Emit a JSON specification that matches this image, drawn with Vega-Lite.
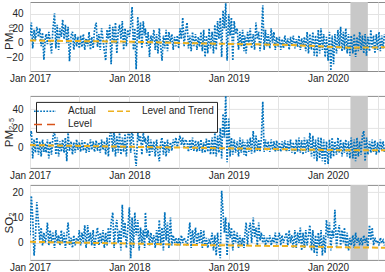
{
"$schema":"https://vega.github.io/schema/vega-lite/v6.json",
"padding":{"left":2,"top":1,"right":1,"bottom":0},
"config":{"font":"Liberation Sans","view":{"stroke":"#8c8c8c"},
"axis":{"labelFont":"Liberation Sans","labelFontSize":10,"labelColor":"#262626","titleFont":"Liberation Sans","titleFontSize":11.5,"titleFontWeight":"normal","titleColor":"#262626","gridColor":"#e3e3e3","domain":false,"ticks":false},
"legend":{"orient":"none","legendX":6,"legendY":6,"columns":2,"direction":"horizontal","symbolSize":121,"symbolStrokeWidth":1.5,"labelFont":"Liberation Sans","labelFontSize":10,"labelColor":"#262626","labelOffset":16.5,"columnPadding":8,"rowPadding":1.5,"padding":2.5,"fillColor":"white","strokeColor":"#262626"}},
"datasets":{
"g":[{"t":"2020-03-23","t2":"2020-05-26"}],
"tr":[{"t":"2017-01-01","a":3,"b":2.1,"c":0.4},{"t":"2018-01-01","a":1.4,"b":0.3,"c":-0.25},{"t":"2018-08-20","a":-0.8,"b":-0.7,"c":-0.8},{"t":"2019-08-20","a":-3.3,"b":-2.5,"c":-1.3},{"t":"2020-03-20","a":-7,"b":-3.5,"c":-1.8},{"t":"2020-07-28","a":-6.5,"b":-3.5,"c":-1.9}],
"m":[
{"t":"2017-01-01","a":10,"b":12,"c":3},{"t":"2017-01-06","a":28,"b":17,"c":18.5},{"t":"2017-01-11","a":-8,"b":-12,"c":10},{"t":"2017-01-16","a":18,"b":8,"c":-5},{"t":"2017-01-21","a":3,"b":-6,"c":2},{"t":"2017-01-26","a":22,"b":10,"c":16},
{"t":"2017-02-01","a":8,"b":-8,"c":8},{"t":"2017-02-06","a":20,"b":6,"c":1},{"t":"2017-02-11","a":-5,"b":-10,"c":6},{"t":"2017-02-16","a":14,"b":8,"c":-1},{"t":"2017-02-21","a":-24,"b":-5,"c":4},{"t":"2017-02-26","a":6,"b":4,"c":0},
{"t":"2017-03-01","a":12,"b":-6,"c":2},{"t":"2017-03-06","a":-2,"b":8,"c":8},{"t":"2017-03-11","a":15,"b":-12,"c":-1},{"t":"2017-03-16","a":3,"b":6,"c":5},{"t":"2017-03-21","a":-15,"b":-8,"c":0},{"t":"2017-03-26","a":18,"b":10,"c":4},
{"t":"2017-04-01","a":41,"b":19,"c":-2},{"t":"2017-04-06","a":-8,"b":-8,"c":5},{"t":"2017-04-11","a":25,"b":10,"c":0},{"t":"2017-04-16","a":-10,"b":-10,"c":3},{"t":"2017-04-21","a":20,"b":6,"c":-1},{"t":"2017-04-26","a":8,"b":-5,"c":5},
{"t":"2017-05-01","a":32,"b":8,"c":0},{"t":"2017-05-06","a":5,"b":-6,"c":4},{"t":"2017-05-11","a":25,"b":10,"c":-2},{"t":"2017-05-16","a":0,"b":-15,"c":3},{"t":"2017-05-21","a":22,"b":15,"c":8},{"t":"2017-05-26","a":-26,"b":-4,"c":-1},
{"t":"2017-06-01","a":10,"b":6,"c":2},{"t":"2017-06-06","a":15,"b":-8,"c":-2},{"t":"2017-06-11","a":-10,"b":5,"c":3},{"t":"2017-06-16","a":12,"b":-6,"c":-1},{"t":"2017-06-21","a":-5,"b":8,"c":2},{"t":"2017-06-26","a":8,"b":-3,"c":0},
{"t":"2017-07-01","a":-8,"b":5,"c":5},{"t":"2017-07-06","a":10,"b":-5,"c":-1},{"t":"2017-07-11","a":-6,"b":7,"c":4},{"t":"2017-07-16","a":12,"b":-4,"c":0},{"t":"2017-07-21","a":-10,"b":6,"c":7},{"t":"2017-07-26","a":6,"b":-6,"c":-2},
{"t":"2017-08-01","a":-5,"b":4,"c":7},{"t":"2017-08-06","a":15,"b":-5,"c":0},{"t":"2017-08-11","a":-10,"b":8,"c":4},{"t":"2017-08-16","a":8,"b":-3,"c":-1},{"t":"2017-08-21","a":-8,"b":6,"c":5},{"t":"2017-08-26","a":18,"b":-5,"c":-2},
{"t":"2017-09-01","a":28,"b":7,"c":3},{"t":"2017-09-06","a":-6,"b":-4,"c":6},{"t":"2017-09-11","a":12,"b":5,"c":-1},{"t":"2017-09-16","a":-10,"b":-6,"c":4},{"t":"2017-09-21","a":20,"b":8,"c":0},{"t":"2017-09-26","a":5,"b":-3,"c":5},
{"t":"2017-10-01","a":-12,"b":6,"c":-2},{"t":"2017-10-06","a":-25,"b":-8,"c":4},{"t":"2017-10-11","a":18,"b":10,"c":-1},{"t":"2017-10-16","a":5,"b":-10,"c":6},{"t":"2017-10-21","a":25,"b":12,"c":0},{"t":"2017-10-26","a":-30,"b":20,"c":8},
{"t":"2017-11-01","a":22,"b":-5,"c":12},{"t":"2017-11-06","a":0,"b":18,"c":-2},{"t":"2017-11-11","a":28,"b":-10,"c":6},{"t":"2017-11-16","a":-15,"b":12,"c":9},{"t":"2017-11-21","a":15,"b":-6,"c":0},{"t":"2017-11-26","a":25,"b":15,"c":5},
{"t":"2017-12-01","a":5,"b":-8,"c":-3},{"t":"2017-12-06","a":30,"b":10,"c":15},{"t":"2017-12-11","a":-10,"b":-5,"c":2},{"t":"2017-12-16","a":20,"b":14,"c":8},{"t":"2017-12-21","a":-5,"b":-10,"c":-2},{"t":"2017-12-26","a":18,"b":12,"c":5},
{"t":"2018-01-01","a":8,"b":18,"c":14},{"t":"2018-01-06","a":25,"b":-6,"c":-6},{"t":"2018-01-11","a":50,"b":20,"c":10},{"t":"2018-01-16","a":-10,"b":5,"c":-2},{"t":"2018-01-21","a":20,"b":-8,"c":12},{"t":"2018-01-26","a":-37,"b":-20,"c":3},
{"t":"2018-02-01","a":36,"b":15,"c":9},{"t":"2018-02-06","a":5,"b":6,"c":-3},{"t":"2018-02-11","a":28,"b":12,"c":6},{"t":"2018-02-16","a":-8,"b":-8,"c":0},{"t":"2018-02-21","a":30,"b":15,"c":5},{"t":"2018-02-26","a":10,"b":5,"c":-2},
{"t":"2018-03-01","a":20,"b":10,"c":12},{"t":"2018-03-06","a":-5,"b":-6,"c":2},{"t":"2018-03-11","a":15,"b":12,"c":5},{"t":"2018-03-16","a":-20,"b":-10,"c":-1},{"t":"2018-03-21","a":10,"b":8,"c":4},{"t":"2018-03-26","a":0,"b":-5,"c":0},
{"t":"2018-04-01","a":18,"b":6,"c":3},{"t":"2018-04-06","a":-10,"b":-10,"c":-2},{"t":"2018-04-11","a":12,"b":8,"c":5},{"t":"2018-04-16","a":-15,"b":-6,"c":0},{"t":"2018-04-21","a":20,"b":-15,"c":9},{"t":"2018-04-26","a":-5,"b":5,"c":-1},
{"t":"2018-05-01","a":-25,"b":10,"c":6},{"t":"2018-05-06","a":10,"b":-8,"c":-3},{"t":"2018-05-11","a":-8,"b":6,"c":12},{"t":"2018-05-16","a":18,"b":-10,"c":1},{"t":"2018-05-21","a":-12,"b":8,"c":8},{"t":"2018-05-26","a":15,"b":-6,"c":-2},
{"t":"2018-06-01","a":0,"b":5,"c":10},{"t":"2018-06-06","a":12,"b":-4,"c":-1},{"t":"2018-06-11","a":-10,"b":8,"c":3},{"t":"2018-06-16","a":8,"b":2,"c":0},{"t":"2018-06-21","a":-5,"b":10,"c":2},{"t":"2018-06-26","a":10,"b":0,"c":-1},
{"t":"2018-07-01","a":-8,"b":6,"c":2},{"t":"2018-07-06","a":20,"b":12,"c":-1},{"t":"2018-07-11","a":5,"b":2,"c":3},{"t":"2018-07-16","a":35,"b":10,"c":0},{"t":"2018-07-21","a":-5,"b":0,"c":2},{"t":"2018-07-26","a":15,"b":8,"c":1},
{"t":"2018-08-01","a":28,"b":5,"c":-1},{"t":"2018-08-06","a":-8,"b":-5,"c":3},{"t":"2018-08-11","a":10,"b":8,"c":8},{"t":"2018-08-16","a":-12,"b":-3,"c":-2},{"t":"2018-08-21","a":15,"b":10,"c":5},{"t":"2018-08-26","a":-5,"b":-4,"c":0},
{"t":"2018-09-01","a":12,"b":7,"c":6},{"t":"2018-09-06","a":-10,"b":-5,"c":-1},{"t":"2018-09-11","a":8,"b":6,"c":4},{"t":"2018-09-16","a":-6,"b":-4,"c":0},{"t":"2018-09-21","a":15,"b":8,"c":5},{"t":"2018-09-26","a":-12,"b":-6,"c":-2},
{"t":"2018-10-01","a":18,"b":5,"c":5},{"t":"2018-10-06","a":-20,"b":-6,"c":-1},{"t":"2018-10-11","a":10,"b":9,"c":2},{"t":"2018-10-16","a":-15,"b":-5,"c":-2},{"t":"2018-10-21","a":20,"b":8,"c":1},{"t":"2018-10-26","a":-8,"b":-8,"c":0},
{"t":"2018-11-01","a":15,"b":10,"c":4},{"t":"2018-11-06","a":-15,"b":-8,"c":-3},{"t":"2018-11-11","a":25,"b":15,"c":3},{"t":"2018-11-16","a":-10,"b":-10,"c":-5},{"t":"2018-11-21","a":30,"b":12,"c":4},{"t":"2018-11-26","a":5,"b":-6,"c":-2},
{"t":"2018-12-01","a":35,"b":20,"c":-6},{"t":"2018-12-06","a":-20,"b":-12,"c":20.5},{"t":"2018-12-11","a":45,"b":35,"c":12},{"t":"2018-12-16","a":20,"b":10,"c":4},{"t":"2018-12-21","a":55,"b":54,"c":10},{"t":"2018-12-26","a":-25,"b":-16,"c":-5},
{"t":"2019-01-01","a":40,"b":30,"c":8},{"t":"2019-01-06","a":10,"b":-10,"c":2},{"t":"2019-01-11","a":35,"b":10,"c":6},{"t":"2019-01-16","a":-25,"b":-8,"c":-3},{"t":"2019-01-21","a":30,"b":8,"c":5},{"t":"2019-01-26","a":12,"b":-6,"c":0},
{"t":"2019-02-01","a":20,"b":6,"c":4},{"t":"2019-02-06","a":-10,"b":-10,"c":-2},{"t":"2019-02-11","a":15,"b":10,"c":3},{"t":"2019-02-16","a":-5,"b":-6,"c":-1},{"t":"2019-02-21","a":18,"b":8,"c":2},{"t":"2019-02-26","a":-12,"b":-8,"c":-2},
{"t":"2019-03-01","a":10,"b":5,"c":3},{"t":"2019-03-06","a":-15,"b":-10,"c":8},{"t":"2019-03-11","a":15,"b":8,"c":-1},{"t":"2019-03-16","a":0,"b":-5,"c":5},{"t":"2019-03-21","a":20,"b":10,"c":8},{"t":"2019-03-26","a":-8,"b":-7,"c":0},
{"t":"2019-04-01","a":12,"b":17,"c":10},{"t":"2019-04-06","a":-10,"b":-6,"c":2},{"t":"2019-04-11","a":28,"b":12,"c":6},{"t":"2019-04-16","a":5,"b":-4,"c":-1},{"t":"2019-04-21","a":15,"b":8,"c":8},{"t":"2019-04-26","a":-12,"b":-5,"c":1},
{"t":"2019-05-01","a":10,"b":10,"c":4},{"t":"2019-05-06","a":52,"b":48,"c":0},{"t":"2019-05-11","a":-10,"b":-5,"c":3},{"t":"2019-05-16","a":18,"b":8,"c":-1},{"t":"2019-05-21","a":-5,"b":-4,"c":2},{"t":"2019-05-26","a":12,"b":6,"c":0},
{"t":"2019-06-01","a":-8,"b":-5,"c":3},{"t":"2019-06-06","a":20,"b":8,"c":-1},{"t":"2019-06-11","a":0,"b":-3,"c":2},{"t":"2019-06-16","a":15,"b":6,"c":0},{"t":"2019-06-21","a":-10,"b":-5,"c":4},{"t":"2019-06-26","a":8,"b":7,"c":-1},
{"t":"2019-07-01","a":-6,"b":-4,"c":2},{"t":"2019-07-06","a":8,"b":5,"c":4},{"t":"2019-07-11","a":-10,"b":-5,"c":-1},{"t":"2019-07-16","a":5,"b":6,"c":3},{"t":"2019-07-21","a":-8,"b":-3,"c":0},{"t":"2019-07-26","a":10,"b":7,"c":2},
{"t":"2019-08-01","a":-5,"b":-5,"c":4},{"t":"2019-08-06","a":6,"b":6,"c":-1},{"t":"2019-08-11","a":-10,"b":-4,"c":5},{"t":"2019-08-16","a":8,"b":8,"c":0},{"t":"2019-08-21","a":-4,"b":-6,"c":3},{"t":"2019-08-26","a":10,"b":5,"c":-2},
{"t":"2019-09-01","a":-8,"b":-8,"c":5},{"t":"2019-09-06","a":5,"b":8,"c":-2},{"t":"2019-09-11","a":-6,"b":-5,"c":4},{"t":"2019-09-16","a":10,"b":10,"c":0},{"t":"2019-09-21","a":-10,"b":-6,"c":6},{"t":"2019-09-26","a":6,"b":7,"c":-3},
{"t":"2019-10-01","a":-5,"b":-8,"c":4},{"t":"2019-10-06","a":8,"b":10,"c":-2},{"t":"2019-10-11","a":-12,"b":-6,"c":5},{"t":"2019-10-16","a":15,"b":8,"c":-1},{"t":"2019-10-21","a":-15,"b":-5,"c":3},{"t":"2019-10-26","a":12,"b":15,"c":7},
{"t":"2019-11-01","a":-10,"b":-10,"c":-3},{"t":"2019-11-06","a":15,"b":12,"c":5},{"t":"2019-11-11","a":-18,"b":-12,"c":-4},{"t":"2019-11-16","a":10,"b":8,"c":3},{"t":"2019-11-21","a":-20,"b":-15,"c":-5},{"t":"2019-11-26","a":18,"b":10,"c":4},
{"t":"2019-12-01","a":-15,"b":-12,"c":-2},{"t":"2019-12-06","a":20,"b":10,"c":5},{"t":"2019-12-11","a":-10,"b":-15,"c":-5},{"t":"2019-12-16","a":12,"b":8,"c":3},{"t":"2019-12-21","a":-20,"b":-18,"c":-4},{"t":"2019-12-26","a":8,"b":6,"c":9},
{"t":"2020-01-01","a":-25,"b":-18,"c":2},{"t":"2020-01-06","a":15,"b":8,"c":8},{"t":"2020-01-11","a":-39,"b":-12,"c":-3},{"t":"2020-01-16","a":10,"b":10,"c":5},{"t":"2020-01-21","a":-30,"b":-10,"c":2},{"t":"2020-01-26","a":12,"b":6,"c":13},
{"t":"2020-02-01","a":-15,"b":-8,"c":-2},{"t":"2020-02-06","a":18,"b":10,"c":4},{"t":"2020-02-11","a":-8,"b":-6,"c":7},{"t":"2020-02-16","a":22,"b":8,"c":-1},{"t":"2020-02-21","a":-12,"b":-10,"c":5},{"t":"2020-02-26","a":15,"b":5,"c":0},
{"t":"2020-03-01","a":-10,"b":-6,"c":6},{"t":"2020-03-06","a":20,"b":8,"c":-2},{"t":"2020-03-11","a":-15,"b":-10,"c":4},{"t":"2020-03-16","a":12,"b":6,"c":-3},{"t":"2020-03-21","a":-18,"b":-12,"c":2},{"t":"2020-03-26","a":10,"b":10,"c":-1},
{"t":"2020-04-01","a":-15,"b":-12,"c":3},{"t":"2020-04-06","a":12,"b":8,"c":-2},{"t":"2020-04-11","a":-20,"b":-15,"c":4},{"t":"2020-04-16","a":8,"b":10,"c":0},{"t":"2020-04-21","a":-12,"b":-10,"c":2},{"t":"2020-04-26","a":15,"b":6,"c":-1},
{"t":"2020-05-01","a":-10,"b":-8,"c":2},{"t":"2020-05-06","a":10,"b":12,"c":-1},{"t":"2020-05-11","a":-15,"b":17,"c":3},{"t":"2020-05-16","a":12,"b":-15,"c":0},{"t":"2020-05-21","a":-18,"b":10,"c":2},{"t":"2020-05-26","a":8,"b":-8,"c":-2},
{"t":"2020-06-01","a":-12,"b":6,"c":7},{"t":"2020-06-06","a":18,"b":-6,"c":1},{"t":"2020-06-11","a":-8,"b":8,"c":6},{"t":"2020-06-16","a":10,"b":-5,"c":-1},{"t":"2020-06-21","a":-15,"b":7,"c":2},{"t":"2020-06-26","a":12,"b":-8,"c":0},
{"t":"2020-07-01","a":-10,"b":5,"c":1},{"t":"2020-07-06","a":15,"b":-6,"c":-1},{"t":"2020-07-11","a":-12,"b":8,"c":2},{"t":"2020-07-16","a":10,"b":-4,"c":0},{"t":"2020-07-21","a":-8,"b":6,"c":1},{"t":"2020-07-26","a":12,"b":-5,"c":-1}
]},
"spacing":9.9,
"resolve":{"legend":{"color":"independent","strokeDash":"independent"},"scale":{"color":"independent","strokeDash":"independent"}},
"vconcat":[
{"width":355,"height":69,"data":{"name":"m"},
"encoding":{
"x":{"field":"t","type":"temporal","title":null,"scale":{"type":"utc","domain":[{"year":2017,"month":1,"date":1,"utc":true},{"year":2020,"month":7,"date":28,"utc":true}]},"axis":{"values":[{"year":2017,"month":1,"date":1,"utc":true},{"year":2017,"month":7,"date":1,"utc":true},{"year":2018,"month":1,"date":1,"utc":true},{"year":2018,"month":7,"date":1,"utc":true},{"year":2019,"month":1,"date":1,"utc":true},{"year":2019,"month":7,"date":1,"utc":true},{"year":2020,"month":1,"date":1,"utc":true},{"year":2020,"month":7,"date":1,"utc":true}],"labelExpr":"utcmonth(datum.value) == 0 ? utcFormat(datum.value, '%b %Y') : ''","labelFlush":false,"labelOverlap":false,"labelPadding":2.7,"grid":true}},
"y":{"field":"a","type":"quantitative","title":"PM₁₀","scale":{"domain":[-39.5,56.7],"nice":false,"zero":false},"axis":{"values":[-20,0,20,40],"labelPadding":7,"grid":true,"titleX":-21,"titleY":34.5,"titleAngle":-90,"titleAlign":"center","titleBaseline":"middle"}}},
"layer":[
{"data":{"name":"g"},"mark":{"type":"rect","color":"#c8c8c8"},"encoding":{"x2":{"field":"t2"},"y":{"value":0},"y2":{"value":"height"}}},
{"mark":{"type":"line","color":"#0072BD","strokeWidth":1.7,"strokeDash":[1.7,1.4],"clip":true}},
{"data":{"name":"tr"},"mark":{"type":"line","color":"#EDB120","strokeWidth":2,"strokeDash":[6,3],"clip":true}}
]},
{"spacing":2,
"resolve":{"legend":{"color":"independent","strokeDash":"independent"},"scale":{"color":"independent","strokeDash":"independent"}},
"vconcat":[
{"width":355,"height":72,"data":{"name":"m"},
"encoding":{
"x":{"field":"t","type":"temporal","title":null,"scale":{"type":"utc","domain":[{"year":2017,"month":1,"date":1,"utc":true},{"year":2020,"month":7,"date":28,"utc":true}]},"axis":{"values":[{"year":2017,"month":1,"date":1,"utc":true},{"year":2017,"month":7,"date":1,"utc":true},{"year":2018,"month":1,"date":1,"utc":true},{"year":2018,"month":7,"date":1,"utc":true},{"year":2019,"month":1,"date":1,"utc":true},{"year":2019,"month":7,"date":1,"utc":true},{"year":2020,"month":1,"date":1,"utc":true},{"year":2020,"month":7,"date":1,"utc":true}],"labelExpr":"utcmonth(datum.value) == 0 ? utcFormat(datum.value, '%b %Y') : ''","labelFlush":false,"labelOverlap":false,"labelPadding":2.7,"grid":true}},
"y":{"field":"b","type":"quantitative","title":"PM₂.₅","scale":{"domain":[-22,54],"nice":false,"zero":false},"axis":{"values":[0,20,40],"labelPadding":7,"grid":true,"titleX":-21,"titleY":36,"titleAngle":-90,"titleAlign":"center","titleBaseline":"middle"}}},
"layer":[
{"data":{"name":"g"},"mark":{"type":"rect","color":"#c8c8c8"},"encoding":{"x2":{"field":"t2"},"y":{"value":0},"y2":{"value":"height"}}},
{"mark":{"type":"line","strokeWidth":1.7,"clip":true},"encoding":{
"color":{"datum":"Actual","type":"nominal","title":null,"scale":{"domain":["Actual","Level and Trend","Level"],"range":["#0072BD","#EDB120","#D95319"]},"legend":{"values":["Actual","Level and Trend","Level"],"symbolType":"M-2,0H2"}},
"strokeDash":{"datum":"Actual","type":"nominal","title":null,"scale":{"domain":["Actual","Level and Trend","Level"],"range":[[1.7,1.4],[6,3],[8,5]]},"legend":{"values":["Actual","Level and Trend","Level"],"symbolType":"M-2,0H2"}}}},
{"data":{"name":"tr"},"mark":{"type":"line","strokeWidth":2,"clip":true},"encoding":{
"color":{"datum":"Level and Trend","type":"nominal","title":null,"scale":{"domain":["Actual","Level and Trend","Level"],"range":["#0072BD","#EDB120","#D95319"]},"legend":{"values":["Actual","Level and Trend","Level"],"symbolType":"M-2,0H2"}},
"strokeDash":{"datum":"Level and Trend","type":"nominal","title":null,"scale":{"domain":["Actual","Level and Trend","Level"],"range":[[1.7,1.4],[6,3],[8,5]]},"legend":{"values":["Actual","Level and Trend","Level"],"symbolType":"M-2,0H2"}}}}
]},
{"width":355,"height":75,"data":{"name":"m"},
"encoding":{
"x":{"field":"t","type":"temporal","title":null,"scale":{"type":"utc","domain":[{"year":2017,"month":1,"date":1,"utc":true},{"year":2020,"month":7,"date":28,"utc":true}]},"axis":{"values":[{"year":2017,"month":1,"date":1,"utc":true},{"year":2017,"month":7,"date":1,"utc":true},{"year":2018,"month":1,"date":1,"utc":true},{"year":2018,"month":7,"date":1,"utc":true},{"year":2019,"month":1,"date":1,"utc":true},{"year":2019,"month":7,"date":1,"utc":true},{"year":2020,"month":1,"date":1,"utc":true},{"year":2020,"month":7,"date":1,"utc":true}],"labelExpr":"utcmonth(datum.value) == 0 ? utcFormat(datum.value, '%b %Y') : ''","labelFlush":false,"labelOverlap":false,"labelPadding":2.7,"grid":true}},
"y":{"field":"c","type":"quantitative","title":"SO₂","scale":{"domain":[-6.7,22.8],"nice":false,"zero":false},"axis":{"values":[0,10,20],"labelPadding":7,"grid":true,"titleX":-21,"titleY":37.5,"titleAngle":-90,"titleAlign":"center","titleBaseline":"middle"}}},
"layer":[
{"data":{"name":"g"},"mark":{"type":"rect","color":"#c8c8c8"},"encoding":{"x2":{"field":"t2"},"y":{"value":0},"y2":{"value":"height"}}},
{"mark":{"type":"line","color":"#0072BD","strokeWidth":1.7,"strokeDash":[1.7,1.4],"clip":true}},
{"data":{"name":"tr"},"mark":{"type":"line","color":"#EDB120","strokeWidth":2,"strokeDash":[6,3],"clip":true}}
]}
]}
]}
